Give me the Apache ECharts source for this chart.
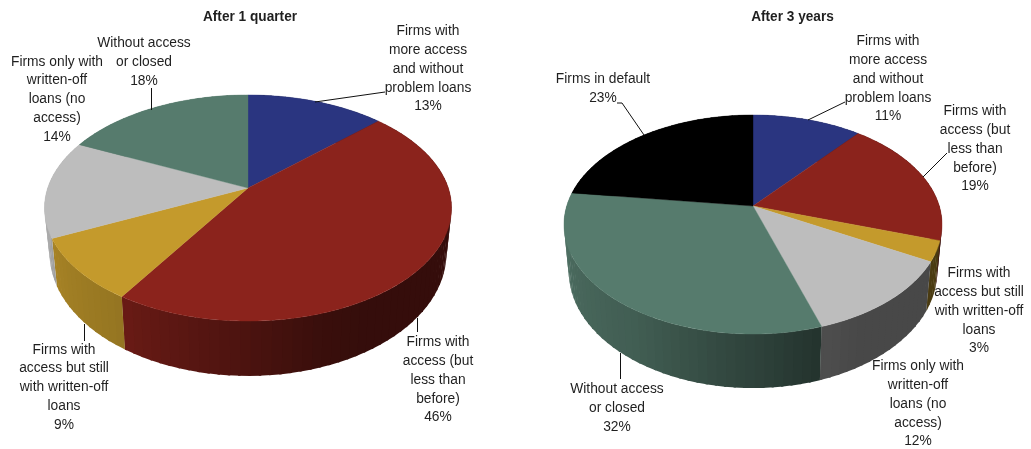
<!DOCTYPE html>
<html>
<head>
<meta charset="utf-8">
<script src="https://cdn.jsdelivr.net/npm/echarts@6/dist/echarts.min.js"></script>
<style>
html, body { margin: 0; padding: 0; background: #fff; }
#chart { width: 1031px; height: 449px; }
</style>
</head>
<body>
<div id="chart"></div>
<script>
// Outcome categories, clockwise from twelve o'clock
const categories = [
  'Firms with\nmore access\nand without\nproblem loans',
  'Firms with\naccess (but\nless than\nbefore)',
  'Firms with\naccess but still\nwith written-off\nloans',
  'Firms only with\nwritten-off\nloans (no\naccess)',
  'Without access\nor closed',
  'Firms in default'
];
const colors = ['#2a3580', '#8b231c', '#c49a2c', '#bdbdbd', '#567b6d', '#000000'];

const titles = ['After 1 quarter', 'After 3 years'];
const quarterValues = [13, 46, 9, 14, 18];
const yearsValues = [11, 19, 3, 12, 32, 23];

// Perspective disc geometry for each pie (pixels for the frame, ratios for the rest)
const pies = [
  { cx: 248, cy: 188, rx: 200.3, ry: 109.5, tilt: 0.177, wallX: 0.975, wallY: 1.085, drop: 43.6, values: quarterValues, titleX: 250 },
  { cx: 753, cy: 206, rx: 186.3, ry: 106.4, tilt: 0.169, wallX: 0.975, wallY: 1.067, drop: 45.5, values: yearsValues, titleX: 792.5 }
];

// Label centres and leader lines, one entry per category
const labelLayout = [
  [
    { x: 428, y: 68.5, leader: [[315, 102], [385, 92]] },
    { x: 438, y: 379.5, leader: [[417.5, 318], [417.5, 332]] },
    { x: 64, y: 387, leader: [[84.5, 324], [84.5, 341]] },
    { x: 57, y: 99, leader: null },
    { x: 144, y: 61.5, leader: [[151.5, 88], [151.5, 110]] }
  ],
  [
    { x: 888, y: 78.5, leader: [[808, 120], [845, 102]] },
    { x: 975, y: 148.5, leader: [[923, 177], [947, 153]] },
    { x: 979, y: 310.5, leader: null },
    { x: 918, y: 403.5, leader: null },
    { x: 617, y: 407.5, leader: [[620.5, 353], [620.5, 379]] },
    { x: 603, y: 88, leader: [[644, 135], [622, 103], [617, 103]] }
  ]
];

// The condensed look comes from a horizontal squeeze of a taller face
const LABEL_FONT = '15.5px "Liberation Sans", sans-serif';
const LABEL_SQUEEZE = 0.89;
const TITLE_FONT = 'bold 15px "Liberation Sans", sans-serif';
const TITLE_SQUEEZE = 0.91;
const TEXT_COLOR = '#1f1f1f';

// Wall brightness by clockwise angle, brighter towards the left of the pie
const shadeStops = [[0, 0.38], [150, 0.38], [162, 0.41], [180, 0.54], [213, 0.76], [270, 0.92], [360, 0.95]];

function shadeAt(deg) {
  const a = ((deg % 360) + 360) % 360;
  for (let i = 1; i < shadeStops.length; i++) {
    const [a0, s0] = shadeStops[i - 1];
    const [a1, s1] = shadeStops[i];
    if (a <= a1) return s0 + (s1 - s0) * (a - a0) / (a1 - a0);
  }
  return 0.95;
}

function scaled(hex, f) {
  const n = parseInt(hex.slice(1), 16);
  const c = [(n >> 16) & 255, (n >> 8) & 255, n & 255].map(v => Math.round(v * f));
  return 'rgb(' + c.join(',') + ')';
}

// Circle point to axis coordinates: x and y scale with the perspective divisor
function rimPoint(pie, deg) {
  const t = deg * Math.PI / 180;
  const w = 1 + pie.tilt * Math.cos(t);
  return [Math.sin(t) / w, Math.cos(t) / w];
}
function wallPoint(pie, deg) {
  const p = rimPoint(pie, deg);
  return [p[0] * pie.wallX, p[1] * pie.wallY - pie.drop / pie.ry];
}

function sweep(values, index) {
  const total = values.reduce((a, b) => a + b, 0);
  const before = values.slice(0, index).reduce((a, b) => a + b, 0);
  return [before / total * 360, (before + values[index]) / total * 360];
}

function arcAngles(a0, a1, step) {
  const out = [];
  for (let a = a0; a < a1; a += step) out.push(a);
  out.push(a1);
  return out;
}

function topRenderer(pie) {
  return function (params, api) {
    const i = params.dataIndex;
    const [a0] = sweep(pie.values, i);
    const a1 = a0 + api.value(0) / pie.values.reduce((a, b) => a + b, 0) * 360;
    const pts = [api.coord([0, 0])];
    arcAngles(a0, a1, 1).forEach(a => pts.push(api.coord(rimPoint(pie, a))));
    return {
      type: 'polygon',
      shape: { points: pts },
      style: { fill: colors[i], stroke: colors[i], lineWidth: 0.4 }
    };
  };
}

// Each wall is a run of slightly overlapping strips, painted in sweep order
function wallRenderer(pie) {
  return function (params, api) {
    const i = params.dataIndex;
    const [a0] = sweep(pie.values, i);
    const a1 = a0 + api.value(0) / pie.values.reduce((a, b) => a + b, 0) * 360;
    const angles = arcAngles(a0, a1, 2.5);
    const children = [];
    for (let k = 0; k + 1 < angles.length; k++) {
      const from = angles[k];
      const to = Math.min(angles[k + 1] + 0.6, a1);
      children.push({
        type: 'polygon',
        shape: {
          points: [rimPoint(pie, from), rimPoint(pie, to), wallPoint(pie, to), wallPoint(pie, from)]
            .map(p => api.coord(p))
        },
        style: { fill: scaled(colors[i], shadeAt((from + to) / 2)) }
      });
    }
    return { type: 'group', children };
  };
}

function labelRenderer(pieIndex) {
  const layout = labelLayout[pieIndex];
  return function (params, api) {
    const i = params.dataIndex;
    const spot = layout[i];
    const children = [];
    if (spot.leader) {
      children.push({
        type: 'polyline',
        shape: { points: spot.leader },
        style: { fill: 'none', stroke: '#111', lineWidth: 1 }
      });
    }
    children.push({
      type: 'text',
      x: spot.x, y: spot.y,
      scaleX: LABEL_SQUEEZE,
      style: {
        x: 0, y: 0,
        text: categories[i] + '\n' + api.value(0) + '%',
        align: 'center', verticalAlign: 'middle',
        font: LABEL_FONT, lineHeight: 18.8,
        fill: TEXT_COLOR
      }
    });
    return { type: 'group', children };
  };
}

const grids = pies.map(p => ({
  left: p.cx - p.rx, top: p.cy - p.ry, width: 2 * p.rx, height: 2 * p.ry
}));
const axis = gridIndex => ({ type: 'value', gridIndex, min: -1, max: 1, show: false });

const series = [];
pies.forEach((pie, n) => {
  const data = pie.values.map(v => [v]);
  const base = {
    type: 'custom', xAxisIndex: n, yAxisIndex: n, clip: false, silent: true,
    encode: { x: -1, y: -1 }, data
  };
  series.push({ ...base, name: titles[n] + ' wall', z: 2, renderItem: wallRenderer(pie) });
  series.push({ ...base, name: titles[n] + ' top', z: 3, renderItem: topRenderer(pie) });
  series.push({ ...base, name: titles[n] + ' labels', z: 4, renderItem: labelRenderer(n) });
});

const chart = echarts.init(document.getElementById('chart'), null, { renderer: 'canvas' });
chart.setOption({
  backgroundColor: '#ffffff',
  animation: false,
  graphic: pies.map((p, n) => ({
    type: 'text',
    x: p.titleX, y: 16.5,
    scaleX: TITLE_SQUEEZE,
    style: {
      x: 0, y: 0,
      text: titles[n], align: 'center', verticalAlign: 'middle',
      font: TITLE_FONT, fill: TEXT_COLOR
    }
  })),
  grid: grids,
  xAxis: pies.map((p, n) => axis(n)),
  yAxis: pies.map((p, n) => axis(n)),
  series
});
</script>
</body>
</html>
